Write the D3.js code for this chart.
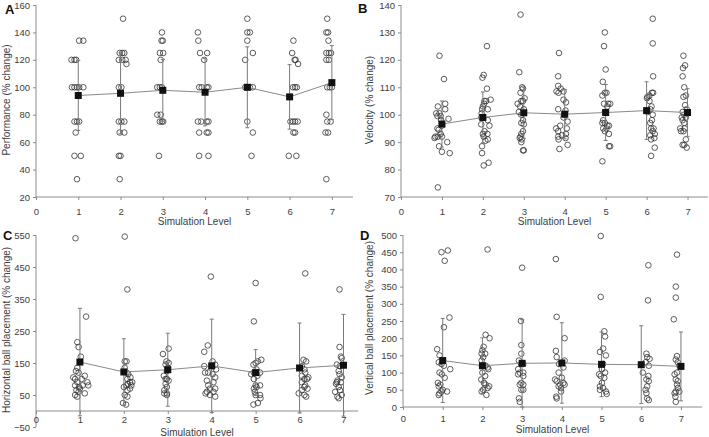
<!DOCTYPE html>
<html>
<head>
<meta charset="utf-8">
<title></title>
<script src="https://cdn.jsdelivr.net/npm/d3@7/dist/d3.min.js"></script>
<style>
  body { margin: 0; background: #fff; }
  svg text { font-family: "Liberation Sans", Arial, sans-serif; }
</style>
</head>
<body>
<div id="chart"></div>
<script>
var levels = [1, 2, 3, 4, 5, 6, 7];

// A - performance: [x (level + jitter), value]
var perfPoints = [
  [0.84,120],[0.91,120],[0.95,120],[1.02,134],[1.12,134],[0.85,100],[0.91,100],[0.97,100],[1.02,100],[1.12,100],
  [0.91,75],[0.97,75],[1.02,75],[0.94,67],[0.91,50],[1.06,50],[0.97,33],
  [2.06,150],[1.98,125],[2.04,125],[2.09,125],[1.96,120],[2.04,120],[2.12,120],[2.14,117],[1.96,100],[2.02,100],
  [1.96,75],[2.02,75],[2.09,75],[1.98,67],[2.09,67],[1.96,50],[2.0,50],[1.98,33],
  [2.98,140],[2.97,134],[3.0,134],[2.93,125],[3.01,125],[2.95,120],[2.87,100],[2.93,100],[2.98,100],
  [2.87,80],[2.95,80],[2.93,75],[2.98,75],[3.01,75],[2.91,50],
  [3.83,140],[3.84,134],[3.88,125],[4.05,125],[3.98,120],[3.86,100],[3.92,100],[4.04,100],[4.08,100],
  [3.83,75],[3.91,75],[4.04,75],[4.08,75],[3.86,67],[4.04,67],[4.08,67],[3.86,50],[4.08,50],
  [5.0,150],[5.0,140],[5.06,140],[5.0,134],[5.13,125],[4.95,120],[4.95,100],[5.0,100],[5.06,100],[5.13,100],
  [5.0,75],[5.13,67],[5.1,50],
  [6.09,134],[6.06,125],[6.12,120],[6.14,120],[6.2,117],[6.08,100],[6.13,100],[6.17,100],
  [6.02,75],[6.08,75],[6.13,75],[6.19,75],[6.09,67],[6.13,67],[5.98,50],[6.16,50],
  [6.89,150],[6.87,140],[6.91,140],[6.92,134],[6.87,125],[6.93,125],[6.98,125],[6.87,120],[6.93,120],
  [6.89,100],[6.95,100],[7.0,100],[6.87,80],[6.89,75],[6.97,75],[6.85,67],[6.91,67],[6.87,33]
];
var perfMean = [94, 95.6, 97.8, 96.4, 100, 93, 103.4];
var perfSD = [25.5, 29.5, 22.5, 24.5, 29.5, 23.5, 27];

// B - velocity
var veloPoints = [
  [0.94,121.5],[1.05,113],[1.08,104],[0.90,103],[1.08,102],[0.86,100.5],[0.94,100.5],[0.89,99.5],[0.97,99.5],
  [1.16,98.5],[0.98,98],[1.0,96],[0.89,95],[0.92,94.5],[0.97,93],[0.84,92],[0.90,92],[1.0,92],[0.82,91.5],
  [1.13,90],[0.93,88.5],[1.0,86.5],[1.19,86],[0.90,73.5],
  [2.10,125],[2.02,114.5],[1.99,113.5],[2.10,109.5],[2.19,105.5],[2.04,105],[2.08,105],[2.03,104],[2.0,103],
  [2.12,102],[1.98,102],[1.97,100.5],[1.96,99],[2.12,98],[1.96,96.5],[2.16,96],[2.04,94],[2.0,93],[2.11,93],
  [2.02,92],[2.12,91],[2.06,90.5],[1.98,88.5],[1.98,86],[2.14,82.5],[2.02,81.5],
  [2.92,136.5],[2.89,115.5],[2.98,109.5],[2.96,110],[2.92,108],[3.02,106],[2.94,105],[2.98,105],[2.85,104],
  [2.91,103],[3.0,102],[2.88,101],[2.94,100],[2.98,98],[2.94,97],[3.0,96.5],[2.98,94],[2.94,93],[2.92,92],
  [2.9,91.5],[2.95,91],[2.94,90],[2.98,87],[3.0,87],
  [3.86,122.5],[3.84,114],[3.84,110.5],[3.9,109.5],[3.8,108.5],[3.97,108.5],[3.85,108],[3.97,105.5],[4.03,104.5],
  [3.84,102],[4.02,101.5],[3.98,100],[3.97,99],[4.07,97.5],[3.89,96],[3.79,95],[4.05,95],[3.84,94],[4.03,93],
  [3.93,92.5],[3.84,92],[4.02,91.5],[3.85,91],[4.07,89],[3.87,87.5],
  [4.98,130],[4.96,125],[5.0,116.5],[4.93,112],[4.98,108],[5.02,108],[4.92,107],[4.96,104],[5.06,104],[5.11,104],
  [5.04,103],[4.98,101],[4.94,98],[4.92,97],[4.98,97],[5.04,96],[5.08,96],[4.94,95],[5.02,95],[4.98,94],
  [5.08,93],[5.08,88.5],[5.11,88.5],[4.92,83],
  [6.15,135],[6.15,126],[6.16,114],[6.13,108],[6.16,108],[6.07,107],[6.02,106.5],[6.01,106],[6.07,105],
  [6.12,103],[6.09,102],[6.02,101],[6.15,100],[6.13,98],[6.09,97],[6.11,95],[6.17,95],[6.15,94],[6.2,93],
  [6.09,92.5],[6.19,91.5],[6.11,91],[6.2,88],[6.11,85],
  [6.9,121.5],[6.94,118],[6.89,117],[6.88,114],[6.92,110],[6.96,107],[6.9,106.5],[6.94,103.5],[6.98,102],
  [6.88,101],[6.92,100],[6.86,99],[6.96,99],[6.88,98],[6.92,97],[6.82,95],[6.93,95],[6.84,94],[6.9,94],
  [6.96,91],[6.88,89],[6.92,89],[6.98,88]
];
var veloMean = [96.6, 99, 100.7, 100.2, 100.8, 101.5, 100.8];
var veloSD = [8.4, 9.3, 9.3, 9, 10.2, 10.5, 8.7];

// C - horizontal ball placement
var horizPoints = [
  [0.9,540],[1.14,295],[0.94,215],[0.97,200],[1.02,170],[0.94,135],[0.91,125],[0.97,120],[1.11,110],[0.85,105],
  [0.89,100],[1.04,100],[0.94,90],[1.17,90],[0.89,80],[1.19,80],[1.06,80],[0.98,75],[1.0,70],[0.92,65],
  [0.97,60],[1.11,55],[0.89,50],[0.94,45],
  [2.02,545],[2.08,380],[2.02,155],[2.06,155],[2.02,135],[2.06,120],[2.1,115],[2.15,105],[2.08,100],[2.14,90],
  [2.19,90],[2.09,85],[2.06,80],[2.17,80],[2.0,75],[2.14,70],[2.08,65],[2.02,50],[2.08,45],[1.98,25],[2.05,20],
  [3.02,195],[2.89,178],[2.97,155],[3.02,150],[2.95,145],[3.0,135],[2.98,125],[2.91,110],[2.98,100],[2.95,100],
  [3.02,95],[2.95,85],[2.98,75],[2.92,65],[2.92,55],[2.98,55],[2.98,50],
  [3.98,420],[3.91,205],[3.83,185],[4.02,155],[4.08,145],[3.83,140],[4.1,130],[3.85,120],[3.92,120],[4.02,115],
  [4.08,105],[3.89,95],[4.04,90],[3.92,80],[4.08,70],[3.96,70],[3.89,60],[4.04,60],[3.86,55],[3.96,50],[4.08,45],
  [5.0,400],[4.96,280],[5.13,160],[5.05,155],[5.0,150],[4.95,145],[5.02,130],[4.96,120],[5.1,120],[4.9,115],
  [5.04,110],[4.96,100],[5.0,80],[5.1,80],[5.02,75],[4.96,70],[4.98,60],[5.0,50],[5.1,50],[5.11,40],[5.05,25],[4.95,20],
  [6.13,430],[6.09,160],[6.15,155],[6.05,140],[6.11,130],[6.13,120],[6.05,110],[6.2,105],[6.11,100],[6.17,100],
  [6.05,90],[6.13,80],[6.11,75],[6.18,70],[6.05,65],[5.98,55],[6.11,50],[6.15,45],
  [6.91,380],[6.91,200],[6.94,170],[6.96,165],[6.85,145],[6.92,140],[6.89,125],[6.91,115],[6.96,105],[6.86,95],
  [6.85,90],[6.94,90],[6.83,85],[6.89,75],[6.92,65],[6.81,60],[6.96,50],[6.86,45],[6.89,40]
];
var horizMean = [153, 122, 129, 141, 120, 134.5, 143];
var horizSD = [168, 104, 114, 146, 72, 140.5, 159];

// D - vertical ball placement
var vertPoints = [
  [0.97,450],[1.13,455],[1.05,425],[1.17,260],[1.03,232],[0.86,168],[0.92,150],[0.9,130],[0.97,125],[1.03,120],
  [1.19,110],[0.92,100],[0.98,95],[1.05,85],[0.88,70],[0.94,65],[0.9,60],[1.0,50],[0.97,45],[1.11,45],[0.92,40],[0.9,35],
  [2.13,458],[2.08,210],[2.18,200],[2.03,175],[2.0,165],[1.98,155],[2.07,155],[2.02,145],[1.98,135],[2.08,120],
  [2.13,115],[2.15,110],[2.0,100],[2.07,90],[1.97,80],[2.04,70],[2.08,65],[2.17,60],[2.13,55],[2.02,50],[1.98,45],[2.1,35],
  [3.0,405],[2.97,250],[2.98,180],[2.98,155],[2.92,135],[2.98,125],[3.03,125],[2.9,110],[2.94,100],[3.03,100],
  [2.9,95],[3.03,90],[2.98,70],[2.94,65],[3.03,65],[2.98,50],[3.03,50],[2.92,25],[2.94,15],
  [3.85,430],[3.87,262],[4.07,200],[3.85,163],[3.87,145],[4.07,135],[3.93,125],[4.04,115],[3.92,100],[4.0,85],
  [3.83,80],[3.87,75],[4.04,70],[3.96,65],[4.07,65],[3.92,60],[3.98,55],[3.98,45],[3.86,30],[3.87,25],
  [4.98,497],[4.98,320],[5.07,220],[5.09,205],[5.04,170],[4.96,160],[5.11,150],[5.04,125],[5.01,110],[5.09,100],
  [4.94,95],[4.98,90],[5.07,85],[5.01,70],[4.96,60],[5.04,55],[4.96,50],[5.11,45],[5.13,38],
  [6.18,412],[6.17,310],[6.13,155],[6.15,145],[6.21,140],[6.11,130],[6.19,120],[6.04,100],[6.18,90],[6.13,80],
  [6.19,75],[6.15,60],[6.11,50],[6.13,40],[6.15,25],[6.19,20],
  [6.9,443],[6.87,350],[6.87,318],[6.82,255],[6.9,148],[6.87,138],[6.92,130],[6.96,120],[6.9,100],[6.84,95],
  [6.87,80],[6.92,75],[6.9,65],[6.92,55],[6.87,45],[6.96,45],[6.84,40],[6.86,30],[6.87,15]
];
var vertMean = [135, 120, 127, 128, 124, 123, 118];
var vertSD = [122, 81, 127, 117, 94, 113, 100];

var perfTicks = [20, 40, 60, 80, 100, 120, 140, 160];
var veloTicks = [70, 80, 90, 100, 110, 120, 130, 140];
var horizTicks = [-50, 50, 150, 250, 350, 450, 550];
var vertTicks = [0, 50, 100, 150, 200, 250, 300, 350, 400, 450, 500];
var xTicks = [0, 1, 2, 3, 4, 5, 6, 7];

var W = 709, H = 437;
var svg = d3.select("#chart").append("svg").attr("width", W).attr("height", H);

var axisColor = "#8c8c8c", textColor = "#404040";

function drawPanel(p) {
  var g = svg.append("g");
  var x = d3.scaleLinear().domain([0, p.xMax]).range([p.left, p.right]);
  var y = d3.scaleLinear().domain(p.yDomain).range([p.bottom, p.top]);
  var baseY = y(p.xAxisAt);

  // y axis
  var ya = g.append("g").attr("transform", "translate(" + p.left + ",0)")
    .call(d3.axisLeft(y).tickValues(p.yTicks).tickSize(3).tickPadding(3));
  // x axis
  var xa = g.append("g").attr("transform", "translate(0," + baseY + ")")
    .call(d3.axisBottom(x).tickValues(xTicks).tickSize(3).tickPadding(p.xPad));
  [ya, xa].forEach(function (a) {
    a.select(".domain").attr("stroke", axisColor);
    a.selectAll(".tick line").attr("stroke", axisColor);
    a.selectAll("text").attr("fill", textColor).style("font-size", "9.5px");
  });
  xa.select(".domain").attr("d", "M" + p.left + ",0H" + p.right);
  ya.select(".domain").attr("d", "M0," + p.bottom + "V" + p.top);

  // titles
  g.append("text").attr("x", (p.left + p.right) / 2).attr("y", p.xTitleY)
    .attr("text-anchor", "middle").attr("fill", textColor).style("font-size", "10px")
    .text("Simulation Level");
  g.append("text").attr("transform", "translate(" + p.yTitleX + "," + p.yTitleY + ") rotate(-90)")
    .attr("text-anchor", "middle").attr("fill", textColor).style("font-size", "10px")
    .text(p.yTitle);
  g.append("text").attr("x", p.labelX).attr("y", p.labelY)
    .attr("font-weight", "bold").attr("fill", "#111").style("font-size", "13px")
    .text(p.label);

  // raw points
  g.selectAll("circle").data(p.points).enter().append("circle")
    .attr("cx", function (d) { return x(d[0]); })
    .attr("cy", function (d) { return y(d[1]); })
    .attr("r", 2.8)
    .attr("fill", "none").attr("stroke", "#333").attr("stroke-width", 0.8);

  // error bars
  var eb = g.selectAll(".eb").data(levels).enter().append("g");
  eb.append("line")
    .attr("x1", function (d) { return x(d); }).attr("x2", function (d) { return x(d); })
    .attr("y1", function (d, i) { return y(p.mean[i] - p.sd[i]); })
    .attr("y2", function (d, i) { return y(p.mean[i] + p.sd[i]); })
    .attr("stroke", "#7a7a7a").attr("stroke-width", 1);
  [-1, 1].forEach(function (s) {
    eb.append("line")
      .attr("x1", function (d) { return x(d) - 2; }).attr("x2", function (d) { return x(d) + 2; })
      .attr("y1", function (d, i) { return y(p.mean[i] + s * p.sd[i]); })
      .attr("y2", function (d, i) { return y(p.mean[i] + s * p.sd[i]); })
      .attr("stroke", "#7a7a7a").attr("stroke-width", 1);
  });

  // mean line + squares
  var line = d3.line().x(function (d) { return x(d); })
    .y(function (d, i) { return y(p.mean[i]); });
  g.append("path").datum(levels).attr("d", line)
    .attr("fill", "none").attr("stroke", "#8a8a8a").attr("stroke-width", 1);
  g.selectAll(".m").data(levels).enter().append("rect")
    .attr("x", function (d) { return x(d) - 3.5; })
    .attr("y", function (d, i) { return y(p.mean[i]) - 3.5; })
    .attr("width", 7).attr("height", 7).attr("fill", "#111");
}

drawPanel({ label: "A", labelX: 5, labelY: 14, points: perfPoints, mean: perfMean, sd: perfSD,
  left: 36, right: 353, xMax: 7.5, top: 5, bottom: 197, yDomain: [20, 160], yTicks: perfTicks, xAxisAt: 20,
  xPad: 8, xTitleY: 225, yTitle: "Performance  (% change)", yTitleX: 10, yTitleY: 100 });
drawPanel({ label: "B", labelX: 358, labelY: 13, points: veloPoints, mean: veloMean, sd: veloSD,
  left: 401, right: 708, xMax: 7.5, top: 5, bottom: 197, yDomain: [70, 140], yTicks: veloTicks, xAxisAt: 70,
  xPad: 8, xTitleY: 225, yTitle: "Velocity (% change)", yTitleX: 373, yTitleY: 100 });
drawPanel({ label: "C", labelX: 3, labelY: 240, points: horizPoints, mean: horizMean, sd: horizSD,
  left: 36, right: 358, xMax: 7.33, top: 235, bottom: 427, yDomain: [-50, 550], yTicks: horizTicks, xAxisAt: 0,
  xPad: 2, xTitleY: 436, yTitle: "Horizontal ball placement  (% change)", yTitleX: 10, yTitleY: 330 });
drawPanel({ label: "D", labelX: 360, labelY: 240, points: vertPoints, mean: vertMean, sd: vertSD,
  left: 403, right: 702, xMax: 7.53, top: 235, bottom: 407, yDomain: [0, 500], yTicks: vertTicks, xAxisAt: 0,
  xPad: 5, xTitleY: 433, yTitle: "Vertical ball placement (% change)", yTitleX: 373, yTitleY: 318 });
</script>
</body>
</html>
